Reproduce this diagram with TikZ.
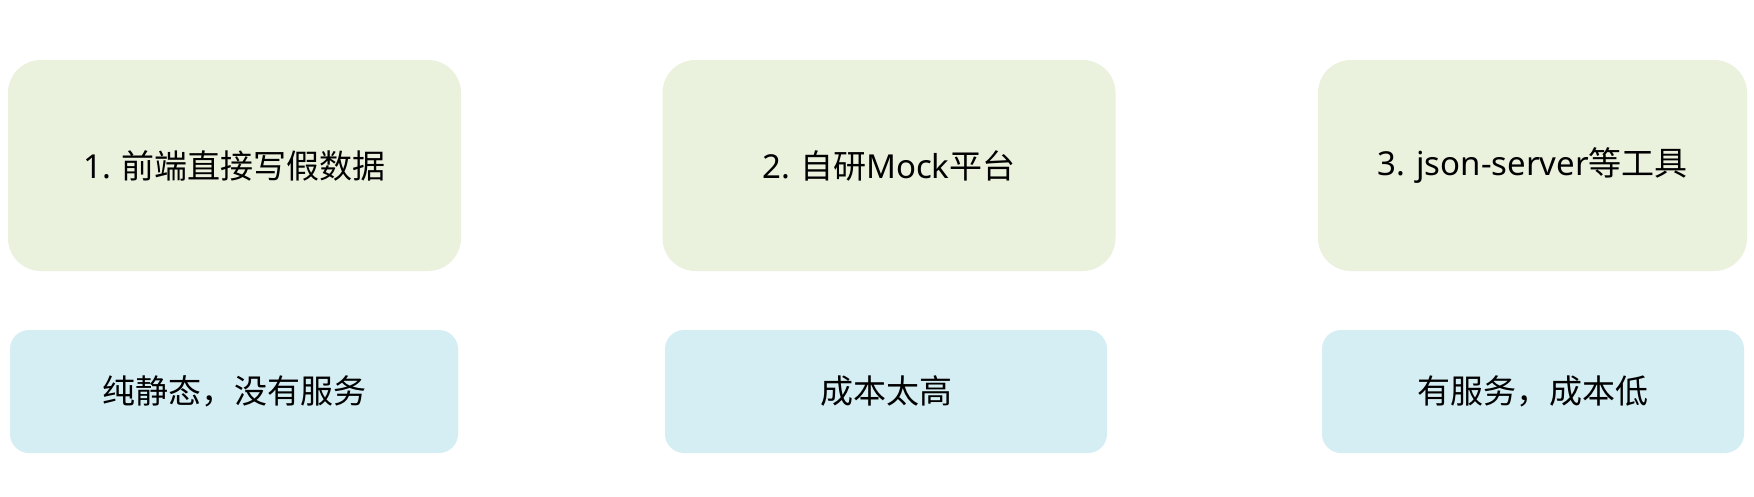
\documentclass[tikz,border=0pt]{standalone}
\usepackage{fontspec}
\setmainfont{Noto Sans CJK SC}
\newfontfamily\latin{Noto Sans}
\usepackage{tikz}
\usepackage{color}

\definecolor{ideagreen}{HTML}{EAF1DD}
\definecolor{noteblue}{HTML}{D5EEF3}

\begin{document}
\begin{tikzpicture}[%
      x=1pt, y=-1pt,
      idea/.style={fill=ideagreen, rounded corners=33pt, minimum width=453pt,
        minimum height=211pt, inner sep=0pt, font=\fontsize{33}{38}\selectfont},
      note/.style={fill=noteblue, rounded corners=19pt, minimum height=123pt,
        inner sep=0pt, font=\fontsize{33}{38}\selectfont},
      ]
      \useasboundingbox [fill=white] (0,0) rectangle (1754,496);

      \node [idea] (way1) at (234.5,165.5) {{\latin 1.} 前端直接写假数据};
      \node [idea] (way2) at (889,165.5) {{\latin 2.} 自研{\latin Mock}平台};
      \node [idea, minimum width=429pt] (way3) at (1532.5,165.5) {{\latin 3. json-server}等工具};

      \node [note, minimum width=448pt] (note1) at (234,391.5) {纯静态，没有服务};
      \node [note, minimum width=442pt] (note2) at (886,391.5) {成本太高};
      \node [note, minimum width=422pt] (note3) at (1533,391.5) {有服务，成本低};
      \end{tikzpicture}
\end{document}
